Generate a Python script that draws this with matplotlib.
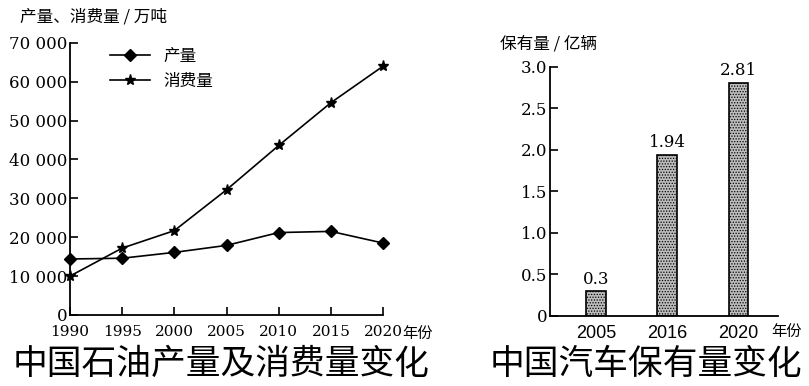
import matplotlib
matplotlib.use("Agg")
import matplotlib.pyplot as plt

plt.rcParams['font.family'] = ['Noto Sans CJK SC', 'DejaVu Sans']
plt.rcParams['hatch.color'] = '#8a8a8a'
plt.rcParams['hatch.linewidth'] = 0.6

# ---- data ----
years = [1990, 1995, 2000, 2005, 2010, 2015, 2020]
production = [14400, 14600, 16100, 17900, 21200, 21500, 18500]
consumption = [10000, 17200, 21700, 32200, 43600, 54600, 64000]
y_ticks_left = [0, 10000, 20000, 30000, 40000, 50000, 60000, 70000]
y_tick_labels_left = ['0', '10 000', '20 000', '30 000', '40 000', '50 000', '60 000', '70 000']

car_years = ['2005', '2016', '2020']
car_stock = [0.3, 1.94, 2.81]
car_labels = ['0.3', '1.94', '2.81']
y_ticks_right = [0, 0.5, 1.0, 1.5, 2.0, 2.5, 3.0]
y_tick_labels_right = ['0', '0.5', '1.0', '1.5', '2.0', '2.5', '3.0']

serif = ['DejaVu Serif']
cjk = ['Noto Sans CJK SC', 'DejaVu Sans']

fig = plt.figure(figsize=(8.09, 3.86), dpi=100)

# ---- left chart ----
ax1 = fig.add_axes([0.0865, 0.184, 0.387, 0.705])
ax1.plot(years, production, color='black', lw=1.2, marker='D', ms=6,
         label='产量', clip_on=False, zorder=3)
ax1.plot(years, consumption, color='black', lw=1.2, marker='*', ms=8,
         label='消费量', clip_on=False, zorder=3)
ax1.set_xlim(1990, 2020)
ax1.set_ylim(0, 70000)
ax1.set_xticks(years)
ax1.set_xticklabels([str(y) for y in years], family=serif, fontsize=11)
ax1.set_yticks(y_ticks_left)
ax1.set_yticklabels(y_tick_labels_left, family=serif, fontsize=12)
ax1.tick_params(direction='in', length=6, width=1.2, pad=2)
ax1.tick_params(axis='x', pad=7)
for s in ['top', 'right']:
    ax1.spines[s].set_visible(False)
for s in ['left', 'bottom']:
    ax1.spines[s].set_linewidth(1.3)
leg = ax1.legend(loc='upper left', bbox_to_anchor=(0.08, 1.035), frameon=False,
                 handlelength=2.4, prop={'family': cjk, 'size': 12},
                 labelspacing=0.45)
fig.text(0.025, 0.955, '产量、消费量 / 万吨', family=cjk, fontsize=12,
         ha='left', va='center')
fig.text(0.497, 0.135, '年份', family=cjk, fontsize=11, ha='left', va='center')
fig.text(0.015, 0.055, '中国石油产量及消费量变化', family=cjk, fontsize=25,
         weight='light', ha='left', va='center')

# ---- right chart ----
ax2 = fig.add_axes([0.680, 0.182, 0.282, 0.645])
x = range(len(car_years))
ax2.bar(x, car_stock, width=0.28, color='#bdbdbd', edgecolor='black',
        linewidth=1.2, hatch='......')
for xi, v, lab in zip(x, car_stock, car_labels):
    ax2.text(xi, v + 0.04, lab, family=serif, fontsize=12, ha='center', va='bottom')
ax2.set_xlim(-0.65, 2.56)
ax2.set_ylim(0, 3.0)
ax2.set_xticks(list(x))
ax2.set_xticklabels(car_years, family=['Liberation Sans'], fontsize=13)
ax2.set_yticks(y_ticks_right)
ax2.set_yticklabels(y_tick_labels_right, family=serif, fontsize=12)
ax2.tick_params(axis='y', direction='in', length=6, width=1.2, pad=2)
ax2.tick_params(axis='x', length=0, pad=7)
for s in ['top', 'right']:
    ax2.spines[s].set_visible(False)
for s in ['left', 'bottom']:
    ax2.spines[s].set_linewidth(1.3)
fig.text(0.618, 0.885, '保有量 / 亿辆', family=cjk, fontsize=12,
         ha='left', va='center')
fig.text(0.953, 0.140, '年份', family=cjk, fontsize=11, ha='left', va='center')
fig.text(0.605, 0.055, '中国汽车保有量变化', family=cjk, fontsize=25,
         weight='light', ha='left', va='center')

fig.savefig('out.png', dpi=100)
